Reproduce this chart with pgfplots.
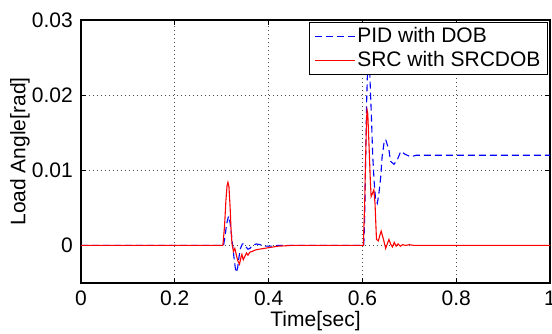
\documentclass[border=0pt]{standalone}
\usepackage{fontspec}
\setmainfont{Liberation Sans}
\usepackage{pgfplots}
\pgfplotsset{compat=1.18}
\begin{document}
\fontsize{21}{25}\selectfont
\begin{tikzpicture}[x=1pt,y=1pt]
\begin{axis}[
  at={(0,0)}, anchor=south west,
  scale only axis,
  width=469pt, height=263pt,
  xmin=0, xmax=1, ymin=-0.005, ymax=0.03,
  xtick={0,0.2,0.4,0.6,0.8,1},
  xticklabels={0,0.2,0.4,0.6,0.8,1},
  ytick={0,0.01,0.02,0.03},
  yticklabels={0,0.01,0.02,0.03},
  scaled ticks=false,
  /pgf/number format/assume math mode=true,
  tick align=inside,
  major tick length=5pt,
  tick style={black, line width=0.6pt},
  axis line style={black, line width=1.3pt},
  grid=major,
  major grid style={black!70, dash pattern=on 0.8pt off 3.2pt, line width=0.7pt},
  ticklabel style={font=\fontsize{21}{25}\selectfont},
  xticklabel style={yshift=-1pt},
  yticklabel style={xshift=-1pt},
  xlabel={Time[sec]},
  ylabel={Load Angle[rad]},
  label style={font=\fontsize{21}{25}\selectfont},
  xlabel style={at={(axis description cs:0.5,-0.145)}, anchor=center},
  ylabel style={at={(axis description cs:-0.13,0.5)}, anchor=center},
  legend style={at={(rel axis cs:0.996,0.993)}, anchor=north east,
    draw=black, line width=1.3pt, fill=white, inner xsep=5pt, inner ysep=3pt,
    font=\fontsize{21}{25}\selectfont, row sep=1pt,
    /tikz/every even column/.append style={column sep=0pt}},
  legend cell align=left,
  legend image code/.code={\draw[#1, line width=1pt] (0pt,0pt) -- (40pt,0pt);},
]
\addplot[blue, line width=1.1pt, dash pattern=on 7pt off 4pt] coordinates {
(0,0) (0.304,0) (0.307,0.0012) (0.311,0.0030) (0.3147,0.0039) (0.318,0.0030)
(0.322,0.0008) (0.326,-0.0015) (0.329,-0.0030) (0.331,-0.0036) (0.334,-0.0030)
(0.337,-0.0015) (0.340,-0.0004) (0.344,0.0002) (0.348,0.0002) (0.352,-0.0002)
(0.356,-0.0005) (0.360,-0.0004) (0.366,0.0000) (0.374,0.0002) (0.382,0.0001)
(0.392,-0.0001) (0.405,-0.0001) (0.42,0) (0.603,0) (0.605,0.004) (0.607,0.012)
(0.609,0.019) (0.611,0.0235) (0.6135,0.0248) (0.616,0.0225) (0.619,0.0175)
(0.622,0.0120) (0.625,0.0085) (0.628,0.0062) (0.6318,0.0056) (0.635,0.0068)
(0.6389,0.0090) (0.642,0.0118) (0.646,0.0136) (0.6496,0.0141) (0.6566,0.0127)
(0.660,0.0112) (0.6673,0.0108) (0.6745,0.0114) (0.6816,0.0125) (0.692,0.0121)
(0.703,0.0118) (0.715,0.0120) (0.74,0.0120) (1,0.012)
};
\addlegendentry{PID with DOB}
\addplot[red, line width=1.1pt] coordinates {
(0,0) (0.3025,0) (0.306,0.0025) (0.309,0.0060) (0.3115,0.0080) (0.3133,0.0084)
(0.3155,0.0078) (0.318,0.0050) (0.320,0.0020) (0.322,0.0002) (0.325,-0.0008)
(0.328,-0.0004) (0.331,-0.0012) (0.334,-0.0020) (0.338,-0.0025) (0.341,-0.0016)
(0.343,-0.0012) (0.346,-0.0019) (0.349,-0.0015) (0.353,-0.0010) (0.356,-0.0013)
(0.360,-0.0009) (0.365,-0.0008) (0.372,-0.0006) (0.380,-0.0005) (0.39,-0.0004)
(0.40,-0.0003) (0.42,-0.0001) (0.45,0) (0.602,0) (0.605,0.006) (0.607,0.012)
(0.609,0.0170) (0.610,0.0180) (0.6115,0.0175) (0.614,0.0135) (0.617,0.0085)
(0.6186,0.0065) (0.622,0.0070) (0.6245,0.0074) (0.627,0.0055) (0.630,0.0008)
(0.634,0.0006) (0.637,0.0013) (0.640,0.0019) (0.645,0.0008) (0.6496,-0.0004)
(0.653,0.0002) (0.6566,0.0008) (0.660,0.0002) (0.664,-0.0002) (0.668,0.0004)
(0.672,-0.0001) (0.676,0.0002) (0.681,-0.0001) (0.686,0.0001) (0.692,0)
(0.70,0.0001) (0.71,0) (1,0)
};
\addlegendentry{SRC with SRCDOB}
\end{axis}
\pgfresetboundingbox
\path[use as bounding box] (-81,-51) rectangle (471,283);
\end{tikzpicture}
\end{document}
